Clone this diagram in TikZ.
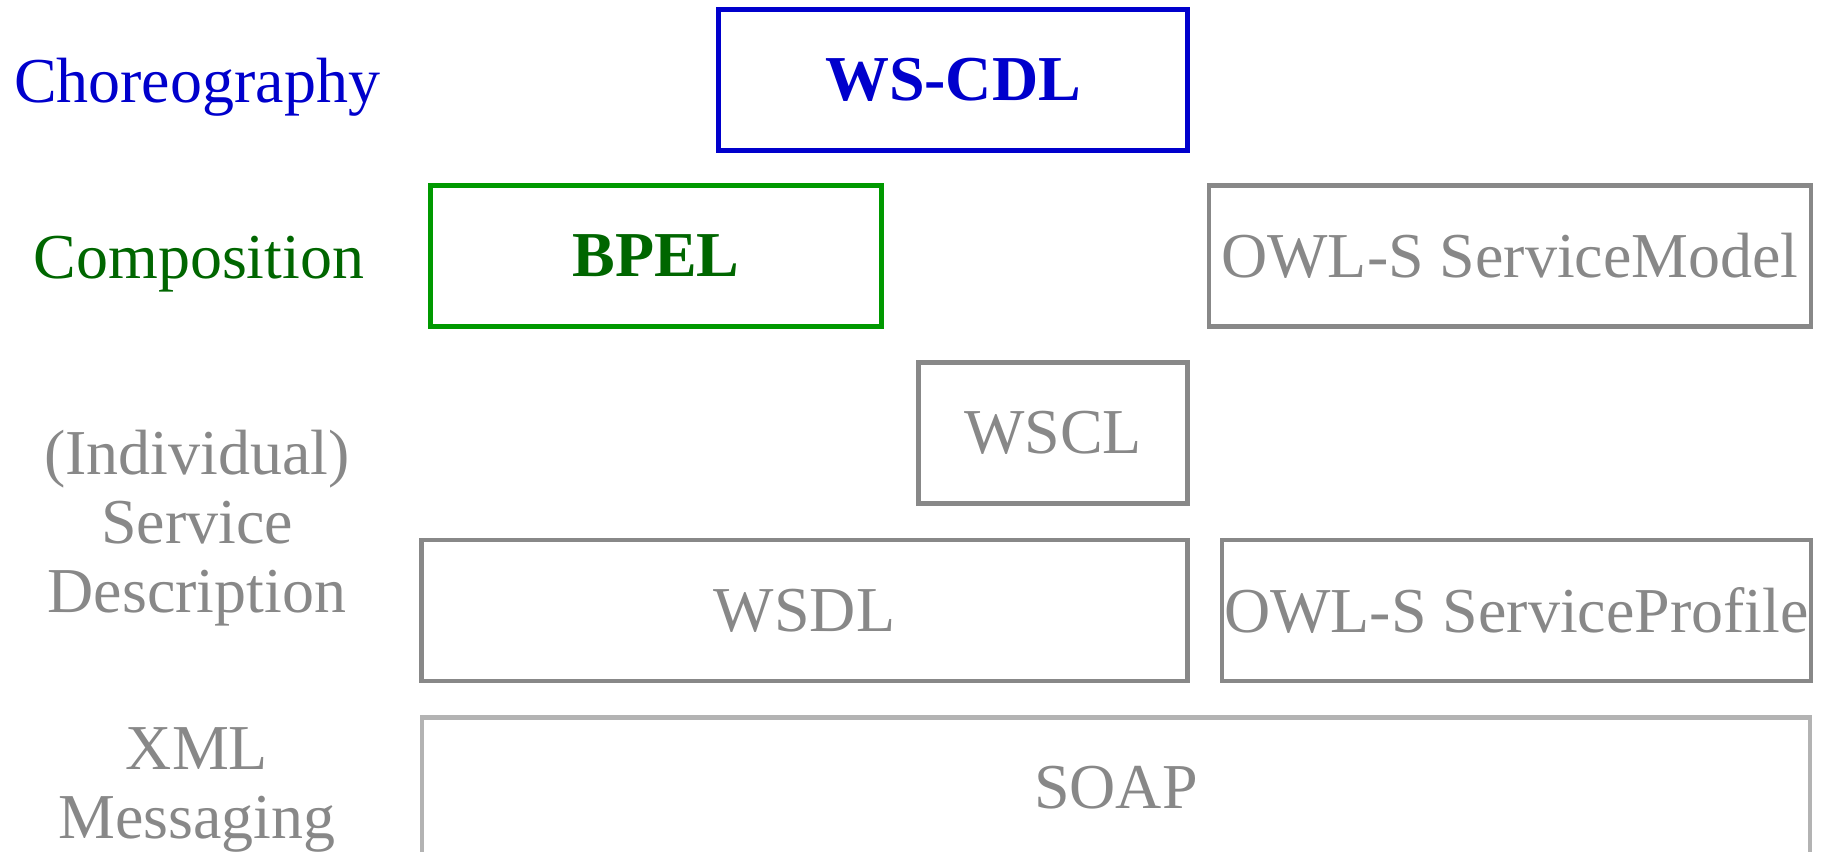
\documentclass[tikz,border=0pt]{standalone}
\usepackage{fontspec}
\setmainfont{Liberation Serif}
\usepackage{tikz}

\definecolor{chorblue}{HTML}{0000CC}
\definecolor{compgreen}{HTML}{009900}
\definecolor{compdark}{HTML}{006600}
\definecolor{descgray}{HTML}{888888}
\definecolor{msggray}{HTML}{B3B3B3}

\tikzset{
	txt/.style={font=\fontsize{18.2}{19.6}\selectfont},
	layer/.style={txt, draw, line width=1.25pt, inner sep=0pt, outer sep=0pt, minimum height=1.41cm},
	rowlabel/.style={txt, align=center, anchor=base, inner sep=0pt},
	chor/.style={chorblue, text=chorblue},
	comp/.style={compgreen, text=compdark},
	desc/.style={descgray, text=descgray},
	msg/.style={msggray, text=descgray},
}

% #1 style, #2 name, #3 centre, #4 width (cm), #5 text
\newcommand{\layerbox}[5]{
	\node[layer, #1, minimum width=#4cm] (#2) at (#3) {#5};
}

\begin{document}
\begin{tikzpicture}
	\useasboundingbox (0,0) rectangle (18.21,-8.51);
	\clip (0,0) rectangle (18.21,-8.51);
	
	% row labels (base = last line)
	\node[rowlabel, text=chorblue] (lchor) at (1.97,-1.02) {Choreography};
	\node[rowlabel, text=compdark] (lcomp) at (1.99,-2.78) {Composition};
	\node[rowlabel, text=descgray] (ldesc) at (1.97,-6.12) {(Individual)\\Service\\Description};
	\node[rowlabel, text=descgray] (lmsg) at (1.97,-8.38) {XML\\Messaging};
	
	% the stack
	\layerbox{chor}{wscdl}{9.53,-0.80}{4.69}{\textbf{WS-CDL}}
	\layerbox{comp}{bpel}{6.56,-2.56}{4.51}{\textbf{BPEL}}
	\layerbox{desc}{owlmodel}{15.10,-2.56}{6.02}{OWL-S ServiceModel}
	\layerbox{desc}{wscl}{10.53,-4.33}{2.69}{WSCL}
	\layerbox{desc}{wsdl}{8.045,-6.105}{7.66}{WSDL}
	\layerbox{desc}{owlprofile}{15.165,-6.105}{5.89}{OWL-S ServiceProfile}
	\layerbox{msg}{soap}{11.16,-7.88}{13.885}{SOAP}
\end{tikzpicture}
\end{document}
